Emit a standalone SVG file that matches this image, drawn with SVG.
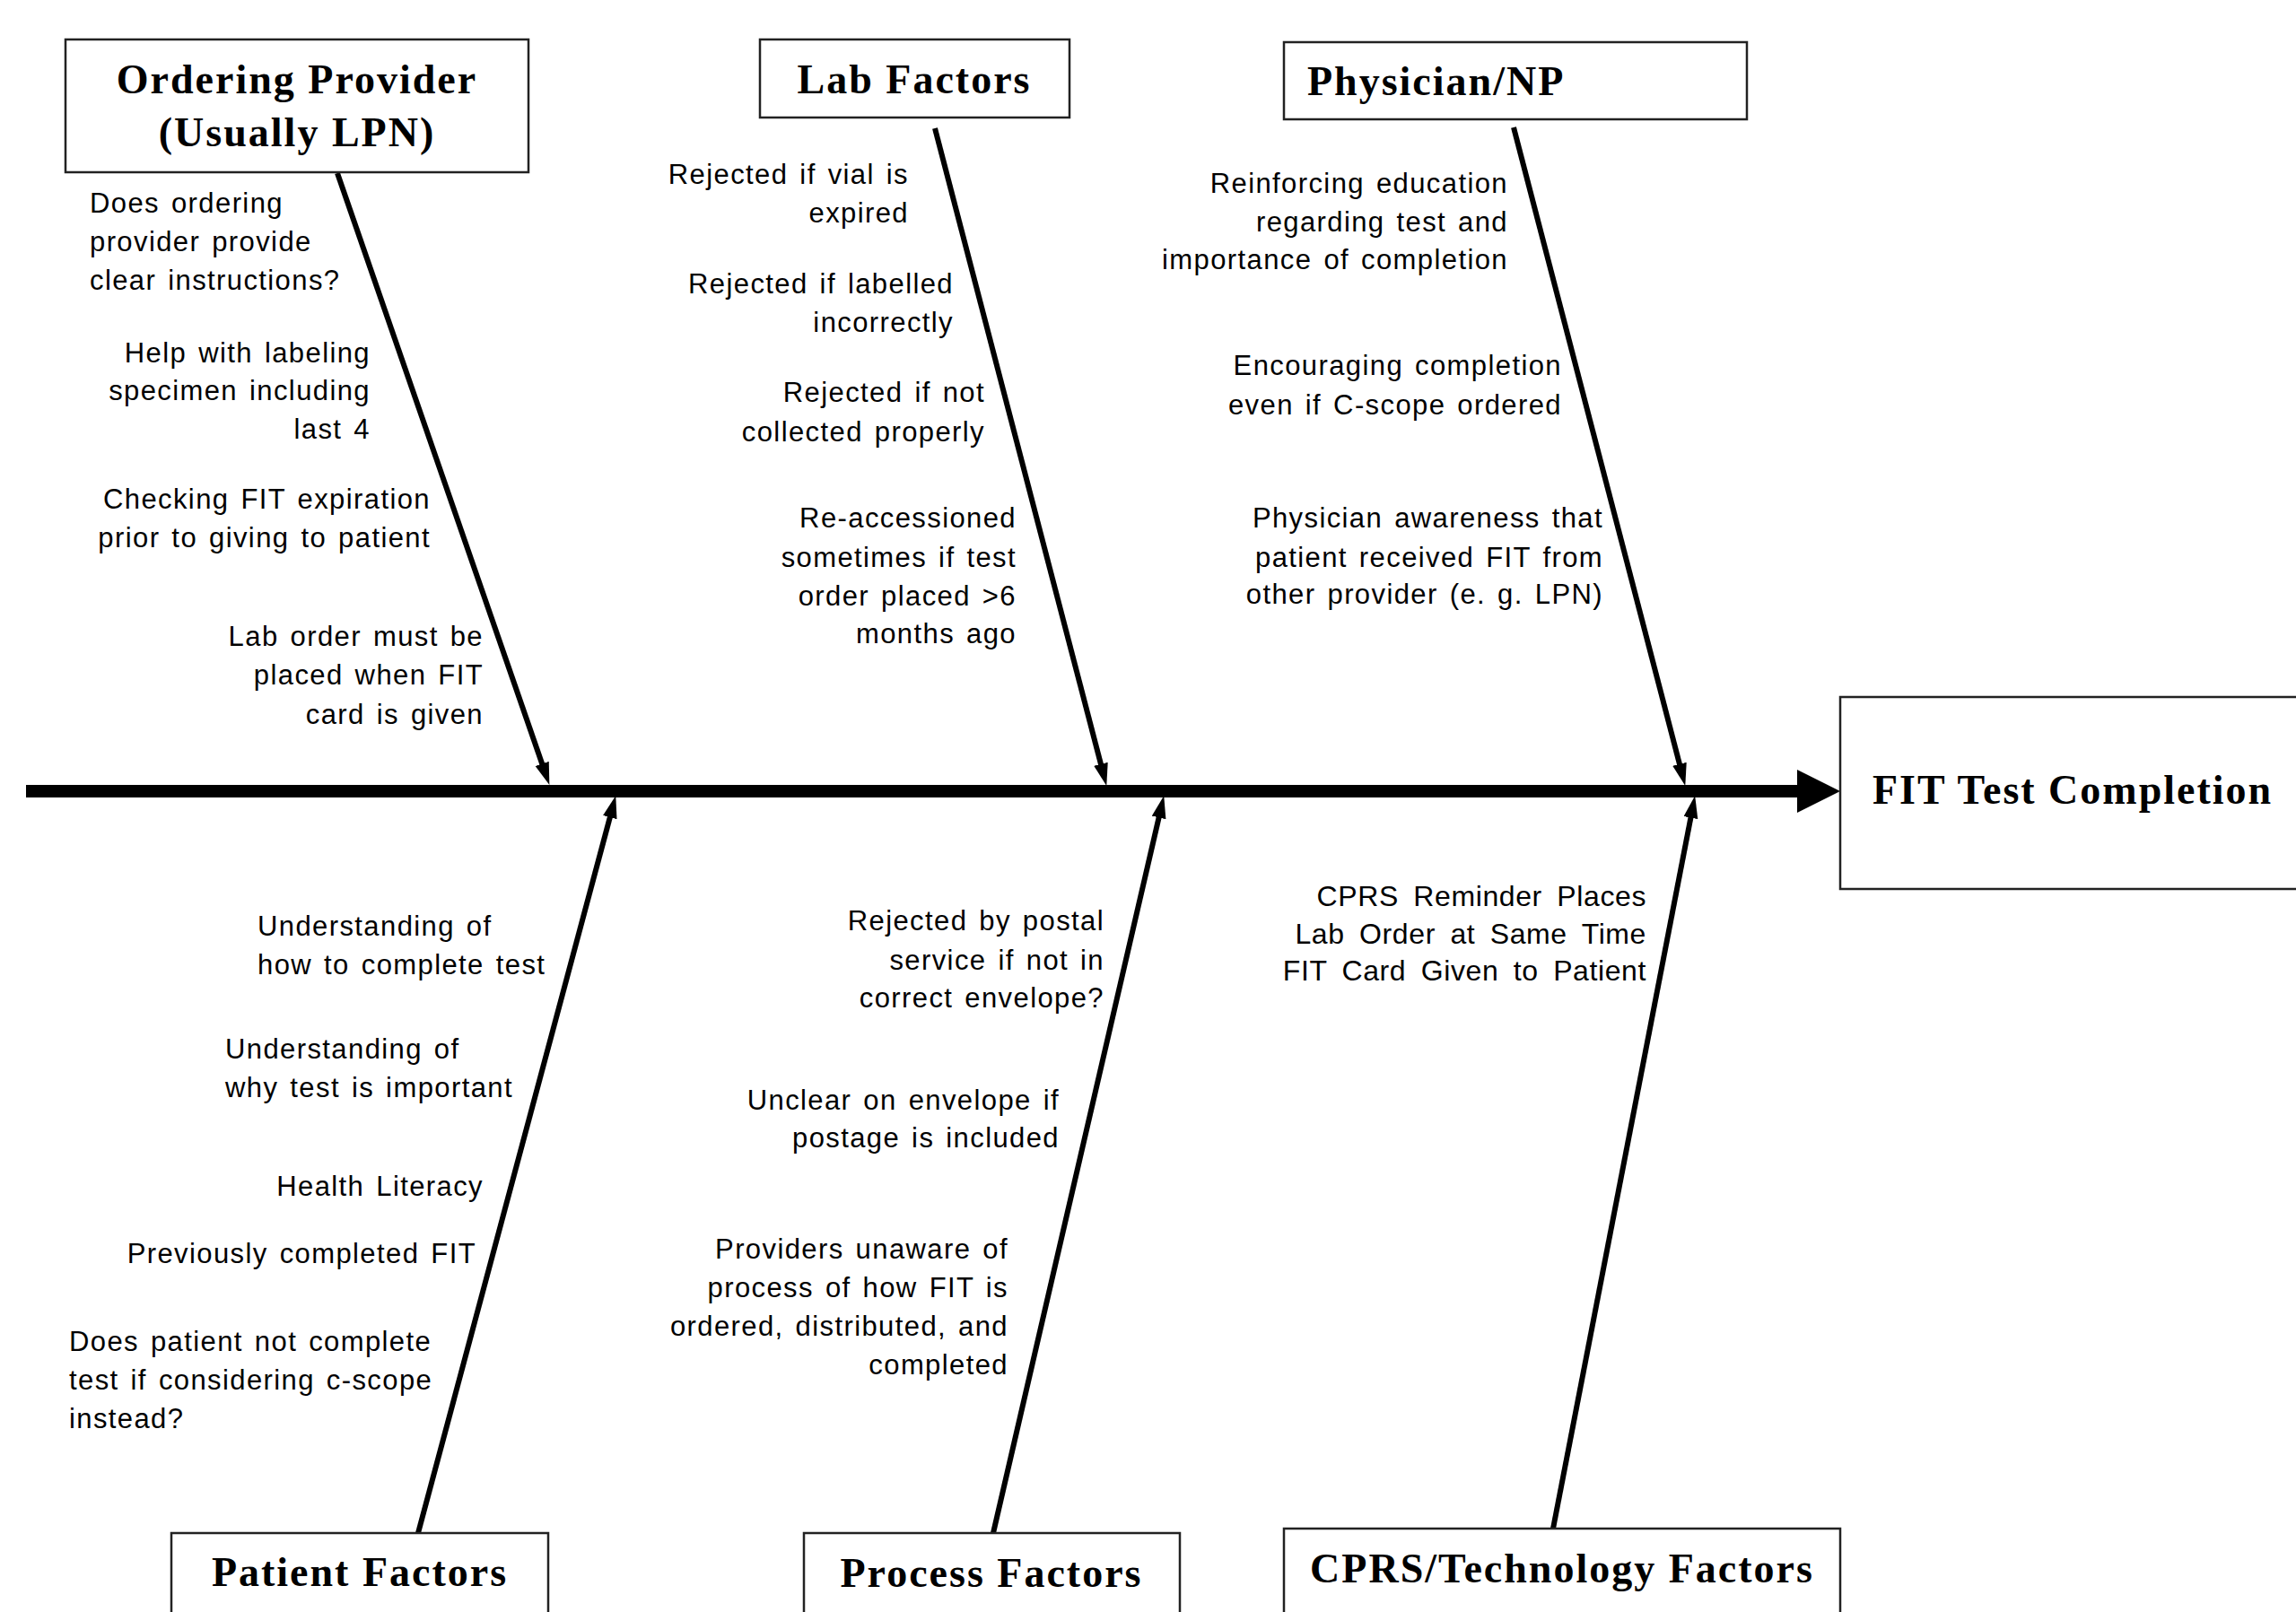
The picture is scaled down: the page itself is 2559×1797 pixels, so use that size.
<svg xmlns="http://www.w3.org/2000/svg" width="2559" height="1797" viewBox="0 0 2559 1797">
<style>
.box{fill:#fff;stroke:#222;stroke-width:2.5}
.ttl{font-family:"Liberation Serif","Times New Roman",serif;font-weight:bold;font-size:46px;letter-spacing:2px;fill:#000}
.c{text-anchor:middle}
.t{font-family:"Liberation Sans",Arial,sans-serif;font-size:31px;letter-spacing:1.4px;word-spacing:3px;fill:#000}
.t2{font-family:"Liberation Sans",Arial,sans-serif;font-size:32px;letter-spacing:0.6px;word-spacing:7px;fill:#000}
.e{text-anchor:end}
.bone{stroke:#000;stroke-width:6;fill:none;marker-end:url(#ah)}
</style>
<defs>
<marker id="ah" markerUnits="userSpaceOnUse" markerWidth="28" markerHeight="18" refX="12" refY="8" orient="auto">
<path d="M0,0 L25,8 L0,16 z" fill="#000"/>
</marker>
</defs>
<rect width="2559" height="1797" fill="#fff"/>

<g id="connectors">
<line x1="29" y1="882" x2="2006" y2="882" stroke="#000" stroke-width="14"/>
<polygon points="2003,858 2051,882 2003,906" fill="#000"/>
<line class="bone" x1="376" y1="193" x2="608.1" y2="862.7"/>
<line class="bone" x1="1042" y1="143" x2="1230" y2="863.4"/>
<line class="bone" x1="1687" y1="142" x2="1875" y2="863.4"/>
<line class="bone" x1="466" y1="1709" x2="682.9" y2="899.6"/>
<line class="bone" x1="1107" y1="1709" x2="1294.3" y2="899.7"/>
<line class="bone" x1="1731" y1="1704" x2="1886.7" y2="899.8"/>
</g>

<g id="ordering-provider">
<rect class="box" x="73" y="44" width="516" height="148"/>
<text class="ttl c" x="331" y="104">Ordering Provider</text>
<text class="ttl c" x="331" y="163">(Usually LPN)</text>
<text class="t"><tspan x="100" y="237">Does ordering</tspan><tspan x="100" y="280">provider provide</tspan><tspan x="100" y="323">clear instructions?</tspan></text>
<text class="t e"><tspan x="413" y="404">Help with labeling</tspan><tspan x="413" y="446">specimen including</tspan><tspan x="413" y="489">last 4</tspan></text>
<text class="t e"><tspan x="480" y="567">Checking FIT expiration</tspan><tspan x="480" y="610">prior to giving to patient</tspan></text>
<text class="t e"><tspan x="539" y="720">Lab order must be</tspan><tspan x="539" y="763">placed when FIT</tspan><tspan x="539" y="807">card is given</tspan></text>
</g>

<g id="lab-factors">
<rect class="box" x="847" y="44" width="345" height="87"/>
<text class="ttl c" x="1019" y="104">Lab Factors</text>
<text class="t e"><tspan x="1013" y="205">Rejected if vial is</tspan><tspan x="1013" y="248">expired</tspan></text>
<text class="t e"><tspan x="1063" y="327">Rejected if labelled</tspan><tspan x="1063" y="370">incorrectly</tspan></text>
<text class="t e"><tspan x="1098" y="448">Rejected if not</tspan><tspan x="1098" y="492">collected properly</tspan></text>
<text class="t e"><tspan x="1133" y="588">Re-accessioned</tspan><tspan x="1133" y="632">sometimes if test</tspan><tspan x="1133" y="675">order placed &gt;6</tspan><tspan x="1133" y="717">months ago</tspan></text>
</g>

<g id="physician-np">
<rect class="box" x="1431" y="47" width="516" height="86"/>
<text class="ttl" x="1457" y="106">Physician/NP</text>
<text class="t e"><tspan x="1681" y="215">Reinforcing education</tspan><tspan x="1681" y="258">regarding test and</tspan><tspan x="1681" y="300">importance of completion</tspan></text>
<text class="t e"><tspan x="1741" y="418">Encouraging completion</tspan><tspan x="1741" y="462">even if C-scope ordered</tspan></text>
<text class="t e"><tspan x="1787" y="588">Physician awareness that</tspan><tspan x="1787" y="632">patient received FIT from</tspan><tspan x="1787" y="673">other provider (e. g. LPN)</tspan></text>
</g>

<g id="fit-test-completion">
<rect class="box" x="2051" y="777" width="530" height="214"/>
<text class="ttl" x="2087" y="896">FIT Test Completion</text>
</g>

<g id="patient-factors">
<rect class="box" x="191" y="1709" width="420" height="110"/>
<text class="ttl c" x="401" y="1768">Patient Factors</text>
<text class="t"><tspan x="287" y="1043">Understanding of</tspan><tspan x="287" y="1086">how to complete test</tspan></text>
<text class="t"><tspan x="251" y="1180">Understanding of</tspan><tspan x="251" y="1223">why test is important</tspan></text>
<text class="t e" x="539" y="1333">Health Literacy</text>
<text class="t e" x="531" y="1408">Previously completed FIT</text>
<text class="t"><tspan x="77" y="1506">Does patient not complete</tspan><tspan x="77" y="1549">test if considering c-scope</tspan><tspan x="77" y="1592">instead?</tspan></text>
</g>

<g id="process-factors">
<rect class="box" x="896" y="1709" width="419" height="110"/>
<text class="ttl c" x="1105" y="1769">Process Factors</text>
<text class="t e"><tspan x="1231" y="1037">Rejected by postal</tspan><tspan x="1231" y="1081">service if not in</tspan><tspan x="1231" y="1123">correct envelope?</tspan></text>
<text class="t e"><tspan x="1181" y="1237">Unclear on envelope if</tspan><tspan x="1181" y="1279">postage is included</tspan></text>
<text class="t e"><tspan x="1124" y="1403">Providers unaware of</tspan><tspan x="1124" y="1446">process of how FIT is</tspan><tspan x="1124" y="1489">ordered, distributed, and</tspan><tspan x="1124" y="1532">completed</tspan></text>
</g>

<g id="cprs-technology-factors">
<rect class="box" x="1431" y="1704" width="620" height="115"/>
<text class="ttl c" x="1741" y="1764">CPRS/Technology Factors</text>
<text class="t2 e"><tspan x="1835" y="1010">CPRS Reminder Places</tspan><tspan x="1835" y="1052">Lab Order at Same Time</tspan><tspan x="1835" y="1093">FIT Card Given to Patient</tspan></text>
</g>
</svg>
